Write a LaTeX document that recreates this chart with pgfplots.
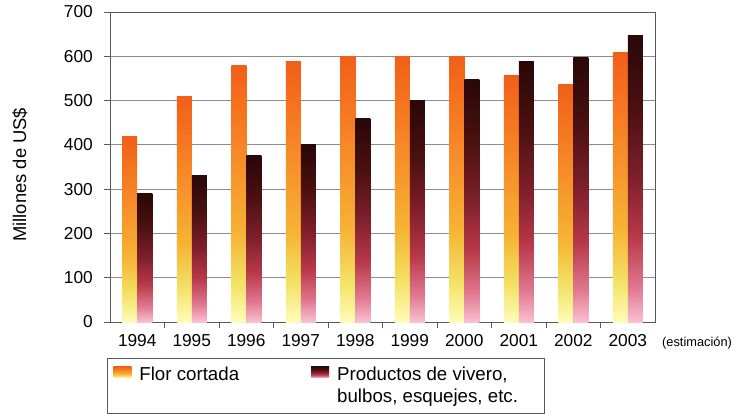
\documentclass[border=0pt]{standalone}
\usepackage{fontspec}
\setmainfont{Liberation Sans}
\usepackage{pgfplots}
\pgfplotsset{compat=1.18}
\definecolor{orA}{HTML}{FFFCB8}
\definecolor{orB}{HTML}{F3E266}
\definecolor{orC}{HTML}{F6B234}
\definecolor{orD}{HTML}{F7902A}
\definecolor{orE}{HTML}{F25E18}
\definecolor{dkA}{HTML}{FAC0D0}
\definecolor{dkB}{HTML}{E07890}
\definecolor{dkC}{HTML}{B83848}
\definecolor{dkD}{HTML}{80202C}
\definecolor{dkE}{HTML}{4A1010}
\definecolor{dkF}{HTML}{2A0707}
\pgfdeclareverticalshading{orsh}{100bp}{color(0bp)=(orA); color(25bp)=(orA); color(32.5bp)=(orB); color(42.5bp)=(orC); color(55bp)=(orD); color(75bp)=(orE); color(100bp)=(orE)}
\pgfdeclareverticalshading{dksh}{100bp}{color(0bp)=(dkA); color(25bp)=(dkA); color(31bp)=(dkB); color(40bp)=(dkC); color(50bp)=(dkD); color(62.5bp)=(dkE); color(75bp)=(dkF); color(100bp)=(dkF)}
\pgfplotsset{
  orbar/.style={draw=none, /tikz/shade, /tikz/shading=orsh, bar shift=-7.5pt},
  dkbar/.style={draw=none, /tikz/shade, /tikz/shading=dksh, bar shift=7.5pt},
}
\begin{document}
\begin{tikzpicture}
\begin{axis}[
  scale only axis, width=545pt, height=310pt,
  xmin=-0.5, xmax=9.5, ymin=0, ymax=700,
  ybar=0pt, bar width=15pt,
  /pgf/number format/assume math mode=true,
  ytick={0,100,...,700},
  ymajorgrids, grid style={draw=black!45, line width=0.8pt},
  axis line style={draw=black!65, line width=0.8pt},
  xtick={0.5,1.5,...,8.5}, xticklabels={},
  extra x ticks={0,1,2,3,4,5,6,7,8,9},
  extra x tick labels={1994,1995,1996,1997,1998,1999,2000,2001,2002,2003},
  extra x tick style={major tick length=0pt, xticklabel style={yshift=-9pt}},
  tick align=outside, major tick length=6pt,
  tick style={draw=black!65, line width=0.8pt},
  xtick pos=bottom, ytick pos=left,
  ticklabel style={font=\fontsize{17.3}{20}\selectfont},
  yticklabel style={inner sep=0pt, xshift=-11pt},
  ylabel={Millones de US\$},
  ylabel style={font=\fontsize{18.4}{22}\selectfont, at={(axis description cs:-0.165,0.475)}, anchor=center},
  legend columns=2,
  legend cell align=left,
  legend image code/.code={\path[#1, draw=none] (0pt,8pt) rectangle (18pt,19pt);},
  legend style={at={(axis description cs:-0.0055,0)}, anchor=north west, yshift=-36pt,
    draw=black!65, line width=0.8pt, font=\fontsize{18.7}{21.5}\selectfont,
    inner xsep=6pt, inner ysep=7pt,
    cells={align=left},
    /tikz/every odd column/.append style={column sep=6pt},
    /tikz/every even column/.append style={column sep=70pt}},
  clip=false,
]
\addplot[orbar] coordinates {(0,420)};
\addlegendentry{Flor cortada\\\mbox{}}
\addplot[dkbar] coordinates {(0,290)};
\addlegendentry{Productos de vivero,\hspace*{29pt}\\bulbos, esquejes, etc.}
\addplot[orbar, forget plot] coordinates {(1,510)};
\addplot[orbar, forget plot] coordinates {(2,580)};
\addplot[orbar, forget plot] coordinates {(3,588)};
\addplot[orbar, forget plot] coordinates {(4,600)};
\addplot[orbar, forget plot] coordinates {(5,600)};
\addplot[orbar, forget plot] coordinates {(6,600)};
\addplot[orbar, forget plot] coordinates {(7,557)};
\addplot[orbar, forget plot] coordinates {(8,537)};
\addplot[orbar, forget plot] coordinates {(9,608)};
\addplot[dkbar, forget plot] coordinates {(1,331)};
\addplot[dkbar, forget plot] coordinates {(2,375)};
\addplot[dkbar, forget plot] coordinates {(3,400)};
\addplot[dkbar, forget plot] coordinates {(4,460)};
\addplot[dkbar, forget plot] coordinates {(5,501)};
\addplot[dkbar, forget plot] coordinates {(6,547)};
\addplot[dkbar, forget plot] coordinates {(7,588)};
\addplot[dkbar, forget plot] coordinates {(8,598)};
\addplot[dkbar, forget plot] coordinates {(9,647)};
\node[anchor=base west, font=\fontsize{12.8}{15}\selectfont, inner sep=0pt] at (axis description cs:1.0128,-0.0806) {(estimación)};
\end{axis}
\path (-110pt,-83pt) rectangle (633pt,322pt);
\end{tikzpicture}
\end{document}
